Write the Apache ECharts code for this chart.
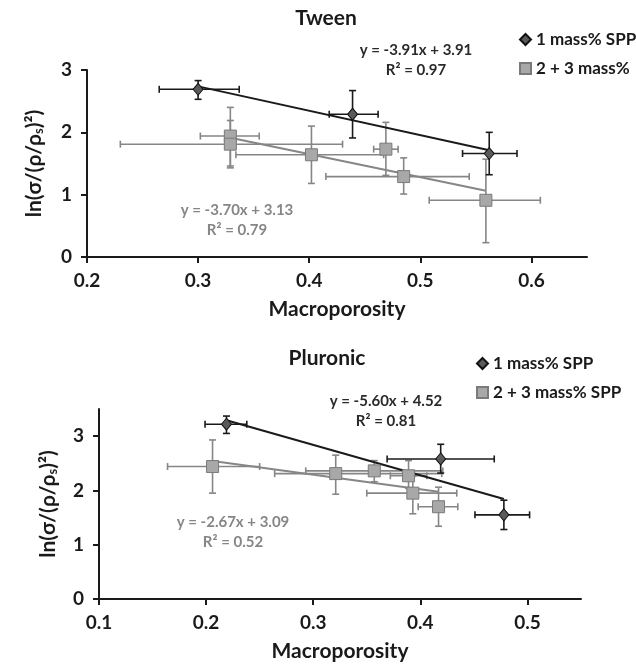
<!DOCTYPE html>
<html><head><meta charset="utf-8">
<script src="https://cdn.jsdelivr.net/npm/echarts@6/dist/echarts.min.js"></script>
<style>html,body{margin:0;padding:0;background:#fff}#c{width:636px;height:666px}</style>
</head><body><div id="c"></div>
<script>
// ---------- Tween ----------
const tween1_x   = [0.300, 0.439, 0.562];
const tween1_y   = [2.69, 2.29, 1.66];
const tween1_xLo = [0.265, 0.418, 0.538];
const tween1_xHi = [0.337, 0.462, 0.587];
const tween1_yLo = [2.53, 1.91, 1.32];
const tween1_yHi = [2.83, 2.67, 2.00];

const tween23_x   = [0.329, 0.329, 0.402, 0.469, 0.485, 0.559];
const tween23_y   = [1.94, 1.81, 1.64, 1.73, 1.29, 0.91];
const tween23_xLo = [0.302, 0.230, 0.334, 0.458, 0.415, 0.508];
const tween23_xHi = [0.355, 0.430, 0.467, 0.480, 0.544, 0.608];
const tween23_yLo = [1.46, 1.43, 1.18, 1.31, 1.01, 0.23];
const tween23_yHi = [2.40, 2.19, 2.10, 2.16, 1.59, 1.57];

// ---------- Pluronic ----------
const plur1_x   = [0.219, 0.419, 0.478];
const plur1_y   = [3.22, 2.58, 1.55];
const plur1_xLo = [0.199, 0.369, 0.451];
const plur1_xHi = [0.238, 0.469, 0.502];
const plur1_yLo = [3.05, 2.32, 1.28];
const plur1_yHi = [3.37, 2.85, 1.82];

const plur23_x   = [0.206, 0.321, 0.357, 0.389, 0.393, 0.417];
const plur23_y   = [2.44, 2.31, 2.36, 2.27, 1.95, 1.70];
const plur23_xLo = [0.164, 0.264, 0.293, 0.372, 0.350, 0.398];
const plur23_xHi = [0.250, 0.420, 0.421, 0.406, 0.434, 0.435];
const plur23_yLo = [1.95, 1.93, 2.16, 2.04, 1.57, 1.34];
const plur23_yHi = [2.93, 2.65, 2.55, 2.55, 2.26, 2.06];

// trendlines [slope, intercept, R2]
const tween1_fit  = [-3.91, 3.91, 0.97];
const tween23_fit = [-3.70, 3.13, 0.79];
const plur1_fit   = [-5.60, 4.52, 0.81];
const plur23_fit  = [-2.67, 3.09, 0.52];

const xTicksTween = [0.2, 0.3, 0.4, 0.5, 0.6];
const xTicksPlur  = [0.1, 0.2, 0.3, 0.4, 0.5];
const yTicks = [0, 1, 2, 3];

const legendTween = ['1 mass% SPP', '2 + 3 mass%'];
const legendPlur  = ['1 mass% SPP', '2 + 3 mass% SPP'];

const FONT = 'Lato, "Open Sans", sans-serif';
const DARK = '#1a1a1a';
const GREY = '#868686';

function rows(x, y, xl, xh, yl, yh) {
  return x.map((v, i) => [v, y[i], xl[i], xh[i], yl[i], yh[i]]);
}
function pts(x, y) { return x.map((v, i) => [v, y[i]]); }
function fitLine(x, fit) {
  const a = Math.min(...x), b = Math.max(...x);
  return [[a, fit[0] * a + fit[1]], [b, fit[0] * b + fit[1]]];
}
function eqText(fit) {
  const s = fit[0] < 0 ? '-' + Math.abs(fit[0]).toFixed(2) : fit[0].toFixed(2);
  return 'y = ' + s + 'x + ' + fit[1].toFixed(2) + '\nR² = ' + fit[2].toFixed(2);
}

function errRender(color) {
  return function (params, api) {
    const x = api.value(0), y = api.value(1);
    const c = api.coord([x, y]);
    const l = api.coord([api.value(2), y]);
    const r = api.coord([api.value(3), y]);
    const b = api.coord([x, api.value(4)]);
    const t = api.coord([x, api.value(5)]);
    const cap = 3.5;
    const st = { stroke: color, lineWidth: 1.6 };
    const ln = (x1, y1, x2, y2) => ({ type: 'line', shape: { x1, y1, x2, y2 }, style: st });
    return { type: 'group', children: [
      ln(l[0], c[1], r[0], c[1]),
      ln(l[0], c[1] - cap, l[0], c[1] + cap),
      ln(r[0], c[1] - cap, r[0], c[1] + cap),
      ln(c[0], b[1], c[0], t[1]),
      ln(c[0] - cap, b[1], c[0] + cap, b[1]),
      ln(c[0] - cap, t[1], c[0] + cap, t[1])
    ]};
  };
}

function xAxis(gi, min, max) {
  return {
    type: 'value', gridIndex: gi, min: min, max: max, interval: 0.1,
    name: 'Macroporosity', nameLocation: 'middle', nameGap: 42,
    nameTextStyle: { fontFamily: FONT, fontWeight: 'bold', fontSize: 21, color: DARK },
    axisLine: { show: true, onZero: false, lineStyle: { color: DARK, width: 2 } },
    axisTick: { show: true, inside: false, length: 6, lineStyle: { color: DARK, width: 2 } },
    axisLabel: { fontFamily: FONT, fontWeight: 'bold', fontSize: 19, color: DARK, margin: 14,
      showMaxLabel: false, formatter: v => v.toFixed(1) },
    splitLine: { show: false }
  };
}
function yAxis(gi, max, gap) {
  return {
    type: 'value', gridIndex: gi, min: 0, max: max, interval: 1,
    name: 'ln(σ/(ρ/ρ{sub|s})²)', nameLocation: 'middle', nameGap: gap, nameRotate: 90,
    nameTextStyle: { fontFamily: FONT, fontWeight: 'bold', fontSize: 21, color: DARK,
      rich: { sub: { fontFamily: FONT, fontWeight: 'bold', fontSize: 13, color: DARK,
        verticalAlign: 'bottom', padding: [9, 0, 0, 0] } } },
    axisLine: { show: true, onZero: false, lineStyle: { color: DARK, width: 2 } },
    axisTick: { show: true, inside: false, length: 6, lineStyle: { color: DARK, width: 2 } },
    axisLabel: { fontFamily: FONT, fontWeight: 'bold', fontSize: 19, color: DARK, margin: 15,
      showMaxLabel: max === 3 },
    splitLine: { show: false }
  };
}

function chartSeries(gi, d1, d23, fit1, fit23, names) {
  return [
    { type: 'custom', xAxisIndex: gi, yAxisIndex: gi, renderItem: errRender(GREY),
      data: rows(...d23), encode: { x: 0, y: 1 }, z: 2, silent: true },
    { type: 'custom', xAxisIndex: gi, yAxisIndex: gi, renderItem: errRender(DARK),
      data: rows(...d1), encode: { x: 0, y: 1 }, z: 2, silent: true },
    { type: 'line', xAxisIndex: gi, yAxisIndex: gi, data: fitLine(d23[0], fit23), symbol: 'none',
      lineStyle: { color: GREY, width: 2 }, z: 3, silent: true },
    { type: 'line', xAxisIndex: gi, yAxisIndex: gi, data: fitLine(d1[0], fit1), symbol: 'none',
      lineStyle: { color: DARK, width: 2 }, z: 3, silent: true },
    { name: names[1], type: 'scatter', xAxisIndex: gi, yAxisIndex: gi, data: pts(d23[0], d23[1]),
      symbol: 'rect', symbolSize: 12,
      itemStyle: { color: '#a8a8a8', borderColor: '#7a7a7a', borderWidth: 1, opacity: 1 }, z: 4 },
    { name: names[0], type: 'scatter', xAxisIndex: gi, yAxisIndex: gi, data: pts(d1[0], d1[1]),
      symbol: 'diamond', symbolSize: [10, 12],
      itemStyle: { color: '#5a5a5a', borderColor: '#111', borderWidth: 1, opacity: 1 }, z: 5 }
  ];
}

const tw1 = [tween1_x, tween1_y, tween1_xLo, tween1_xHi, tween1_yLo, tween1_yHi];
const tw23 = [tween23_x, tween23_y, tween23_xLo, tween23_xHi, tween23_yLo, tween23_yHi];
const pl1 = [plur1_x, plur1_y, plur1_xLo, plur1_xHi, plur1_yLo, plur1_yHi];
const pl23 = [plur23_x, plur23_y, plur23_xLo, plur23_xHi, plur23_yLo, plur23_yHi];

function txt(x, y, text, size, color) {
  return { type: 'text', x: x, y: y, silent: true,
    style: { text: text, font: 'bold ' + size + 'px ' + FONT, fill: color,
      textAlign: 'center', textVerticalAlign: 'middle', lineHeight: size + 5 } };
}

const legendCommon = {
  orient: 'vertical', itemWidth: 11, itemHeight: 11, itemGap: 12, padding: 0,
  textStyle: { fontFamily: FONT, fontWeight: 'bold', fontSize: 17, color: DARK },
  selectedMode: false
};

const chart = echarts.init(document.getElementById('c'), null, { renderer: 'canvas' });
chart.setOption({
  animation: false,
  backgroundColor: '#fff',
  grid: [
    { left: 87, top: 70, width: 500, height: 187 },
    { left: 99, top: 409, width: 482, height: 190 }
  ],
  xAxis: [xAxis(0, xTicksTween[0], 0.65), xAxis(1, xTicksPlur[0], 0.55)],
  yAxis: [yAxis(0, 3, 42), yAxis(1, 3.5, 40)],
  legend: [
    Object.assign({ left: 519, top: 31, data: legendTween }, legendCommon),
    Object.assign({ left: 476, top: 355, data: legendPlur }, legendCommon)
  ],
  graphic: [
    txt(326, 18, 'Tween', 21, DARK),
    txt(327, 358, 'Pluronic', 21, DARK),
    txt(416, 60, eqText(tween1_fit), 15, '#2a2a2a'),
    txt(237, 220, eqText(tween23_fit), 15, GREY),
    txt(386, 411, eqText(plur1_fit), 15, '#2a2a2a'),
    txt(233, 532, eqText(plur23_fit), 15, GREY)
  ],
  series: [
    ...chartSeries(0, tw1, tw23, tween1_fit, tween23_fit, legendTween),
    ...chartSeries(1, pl1, pl23, plur1_fit, plur23_fit, legendPlur)
  ]
});
</script>
</body></html>
